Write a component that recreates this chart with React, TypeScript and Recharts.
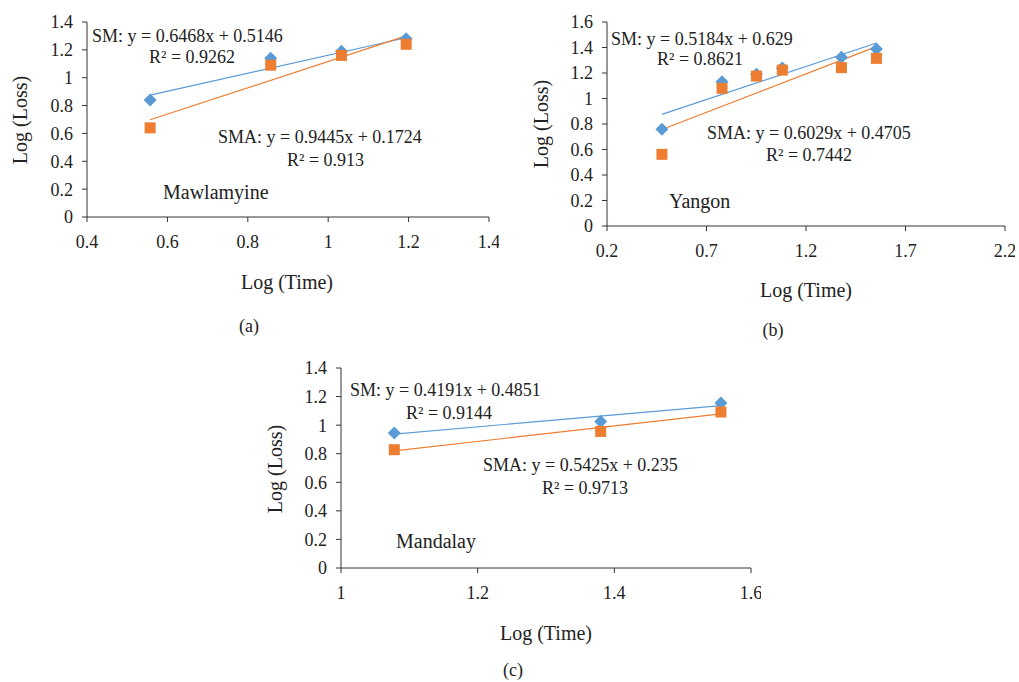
import React from "react";
import {
  ScatterChart,
  Scatter,
  XAxis,
  YAxis,
  ReferenceLine,
} from "recharts";

const FONT = '"Liberation Serif", "Times New Roman", serif';
const BLUE = "#5B9BD5";
const ORANGE = "#ED7D31";
const AXIS = "#333333";

// (a) Mawlamyine
const timeA = [0.557, 0.857, 1.033, 1.194];
const smA = [0.84, 1.14, 1.19, 1.28];
const smaA = [0.64, 1.09, 1.16, 1.24];
const smTrendA = [0.875, 1.287];
const smaTrendA = [0.698, 1.3];
const xTicksA = [0.4, 0.6, 0.8, 1, 1.2, 1.4];
const yTicksA = [0, 0.2, 0.4, 0.6, 0.8, 1, 1.2, 1.4];

// (b) Yangon
const timeB = [0.476, 0.778, 0.951, 1.081, 1.378, 1.554];
const smB = [0.758, 1.132, 1.19, 1.24, 1.323, 1.388];
const smaB = [0.562, 1.08, 1.176, 1.223, 1.242, 1.315];
const smTrendB = [0.876, 1.435];
const smaTrendB = [0.757, 1.407];
const xTicksB = [0.2, 0.7, 1.2, 1.7, 2.2];
const yTicksB = [0, 0.2, 0.4, 0.6, 0.8, 1, 1.2, 1.4, 1.6];

// (c) Mandalay
const timeC = [1.078, 1.38, 1.556];
const smC = [0.945, 1.026, 1.155];
const smaC = [0.828, 0.956, 1.092];
const smTrendC = [0.937, 1.137];
const smaTrendC = [0.82, 1.079];
const xTicksC = [1, 1.2, 1.4, 1.6];
const yTicksC = [0, 0.2, 0.4, 0.6, 0.8, 1, 1.2, 1.4];

const toPoints = (xs: number[], ys: number[]) =>
  xs.map((x, i) => ({ x, y: ys[i] }));

const Diamond = (p: any) => {
  const r = 6.5;
  return (
    <path
      d={`M${p.cx},${p.cy - r}L${p.cx + r},${p.cy}L${p.cx},${p.cy + r}L${p.cx - r},${p.cy}Z`}
      fill={BLUE}
    />
  );
};

const Square = (p: any) => {
  const s = 11;
  return <rect x={p.cx - s / 2} y={p.cy - s / 2} width={s} height={s} fill={ORANGE} />;
};

const Label = ({
  left,
  cy,
  cx,
  size = 18,
  children,
}: {
  left?: number;
  cx?: number;
  cy: number;
  size?: number;
  children: React.ReactNode;
}) => (
  <div
    style={{
      position: "absolute",
      top: cy - size / 2,
      left: cx !== undefined ? cx : left,
      transform: cx !== undefined ? "translateX(-50%)" : undefined,
      fontSize: size,
      lineHeight: `${size}px`,
      fontFamily: FONT,
      color: "#222",
      whiteSpace: "nowrap",
    }}
  >
    {children}
  </div>
);

const VLabel = ({ cx, cy, children }: { cx: number; cy: number; children: React.ReactNode }) => (
  <div
    style={{
      position: "absolute",
      left: cx,
      top: cy,
      transform: "translate(-50%, -50%) rotate(-90deg)",
      fontSize: 20,
      lineHeight: "20px",
      fontFamily: FONT,
      color: "#222",
      whiteSpace: "nowrap",
    }}
  >
    {children}
  </div>
);

interface PanelProps {
  plot: [number, number, number, number]; // left, top, right, bottom
  xs: number[];
  sm: number[];
  sma: number[];
  smTrend: number[];
  smaTrend: number[];
  xTicks: number[];
  yTicks: number[];
}

const Panel = ({ plot, xs, sm, sma, smTrend, smaTrend, xTicks, yTicks }: PanelProps) => {
  const [pl, pt, pr, pb] = plot;
  const left = pl - 70;
  const top = pt - 10;
  const width = pr - pl + 80;
  const height = pb - pt + 50;
  const last = xs.length - 1;
  const tickStyle = { fontFamily: FONT, fontSize: 18, fill: "#222" };
  return (
    <div style={{ position: "absolute", left, top }}>
      <ScatterChart
        width={width}
        height={height}
        margin={{ top: 10, right: 10, left: 10, bottom: 0 }}
      >
        <XAxis
          type="number"
          dataKey="x"
          domain={[xTicks[0], xTicks[xTicks.length - 1]]}
          ticks={xTicks}
          height={40}
          stroke={AXIS}
          tickSize={5}
          tickMargin={13}
          tick={tickStyle}
          interval={0}
        />
        <YAxis
          type="number"
          dataKey="y"
          domain={[yTicks[0], yTicks[yTicks.length - 1]]}
          ticks={yTicks}
          width={60}
          stroke={AXIS}
          tickSize={5}
          tickMargin={9}
          tick={tickStyle}
          interval={0}
        />
        <Scatter data={toPoints(xs, sm)} shape={Diamond} isAnimationActive={false} />
        <Scatter data={toPoints(xs, sma)} shape={Square} isAnimationActive={false} />
        <ReferenceLine
          segment={[
            { x: xs[0], y: smTrend[0] },
            { x: xs[last], y: smTrend[1] },
          ]}
          stroke={BLUE}
          strokeWidth={1.2}
        />
        <ReferenceLine
          segment={[
            { x: xs[0], y: smaTrend[0] },
            { x: xs[last], y: smaTrend[1] },
          ]}
          stroke={ORANGE}
          strokeWidth={1.2}
        />
      </ScatterChart>
    </div>
  );
};

export default function App() {
  return (
    <div
      style={{
        position: "absolute",
        left: 0,
        top: 0,
        width: 1019,
        height: 682,
        background: "#fff",
        overflow: "hidden",
      }}
    >
      {/* (a) */}
      <Panel
        plot={[87, 22, 489, 217]}
        xs={timeA}
        sm={smA}
        sma={smaA}
        smTrend={smTrendA}
        smaTrend={smaTrendA}
        xTicks={xTicksA}
        yTicks={yTicksA}
      />
      <Label left={92} cy={36}>SM: y = 0.6468x + 0.5146</Label>
      <Label left={149} cy={57}>R² = 0.9262</Label>
      <Label left={218} cy={137}>SMA: y = 0.9445x + 0.1724</Label>
      <Label left={287} cy={160}>R² = 0.913</Label>
      <Label left={163} cy={192} size={20}>Mawlamyine</Label>
      <Label cx={287} cy={282} size={20}>Log (Time)</Label>
      <VLabel cx={20} cy={120}>Log (Loss)</VLabel>
      <Label cx={249} cy={326}>(a)</Label>

      {/* (b) */}
      <Panel
        plot={[607, 22, 1005, 226]}
        xs={timeB}
        sm={smB}
        sma={smaB}
        smTrend={smTrendB}
        smaTrend={smaTrendB}
        xTicks={xTicksB}
        yTicks={yTicksB}
      />
      <Label left={611} cy={39}>SM: y = 0.5184x + 0.629</Label>
      <Label left={657} cy={59}>R² = 0.8621</Label>
      <Label left={707} cy={133}>SMA: y = 0.6029x + 0.4705</Label>
      <Label left={766} cy={155}>R² = 0.7442</Label>
      <Label left={669} cy={201} size={20}>Yangon</Label>
      <Label cx={806} cy={290} size={20}>Log (Time)</Label>
      <VLabel cx={541} cy={124}>Log (Loss)</VLabel>
      <Label cx={773} cy={330}>(b)</Label>

      {/* (c) */}
      <Panel
        plot={[341, 368, 751, 568]}
        xs={timeC}
        sm={smC}
        sma={smaC}
        smTrend={smTrendC}
        smaTrend={smaTrendC}
        xTicks={xTicksC}
        yTicks={yTicksC}
      />
      <Label left={350} cy={390}>SM: y = 0.4191x + 0.4851</Label>
      <Label left={406} cy={413}>R² = 0.9144</Label>
      <Label left={483} cy={465}>SMA: y = 0.5425x + 0.235</Label>
      <Label left={542} cy={488}>R² = 0.9713</Label>
      <Label left={396} cy={541} size={20}>Mandalay</Label>
      <Label cx={546} cy={633} size={20}>Log (Time)</Label>
      <VLabel cx={275} cy={469}>Log (Loss)</VLabel>
      <Label cx={513} cy={670}>(c)</Label>
    </div>
  );
}
